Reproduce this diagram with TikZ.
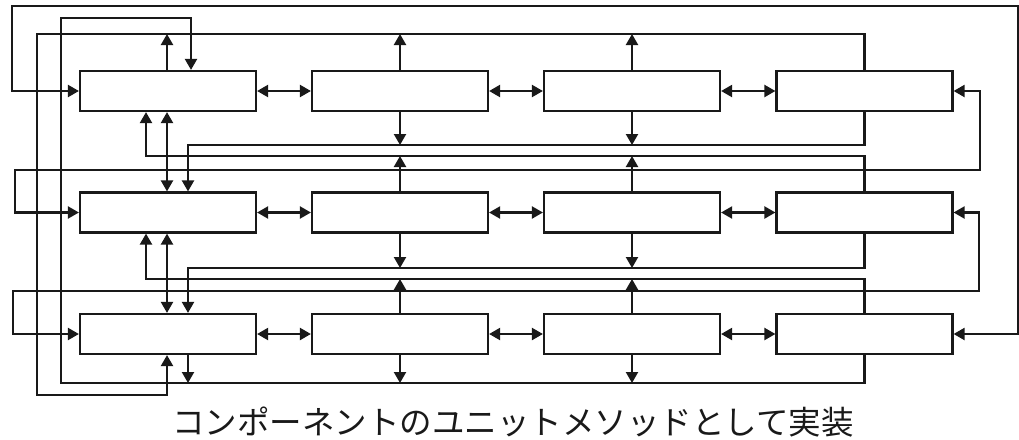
\documentclass[tikz,border=0pt]{standalone}
\usepackage{fontspec}
\newfontfamily\jp{Noto Sans CJK JP}
\usetikzlibrary{arrows.meta}
\definecolor{ink}{RGB}{25,25,25}
\tikzset{
  wire/.style={draw=ink, line width=2.2pt},
  unit/.style={wire, rectangle, fill=white, minimum width=176pt, minimum height=40pt, inner sep=0pt},
  tip/.style={-{Triangle[length=11pt,width=12pt]}},
  tips/.style={{Triangle[length=11pt,width=12pt]}-{Triangle[length=11pt,width=12pt]}},
}
\begin{document}
\begin{tikzpicture}[x=1pt,y=-1pt]
\useasboundingbox (0,0) rectangle (1019,439);

% x positions of the trunks
\coordinate (xa) at (146,0);
\coordinate (xb) at (167,0);
\coordinate (xc) at (188,0);
\coordinate (xd) at (191,0);
% y positions of the buses
\coordinate (yA) at (0,34);
\coordinate (yB) at (0,145);
\coordinate (yC) at (0,156);
\coordinate (yD) at (0,268);
\coordinate (yE) at (0,279);
\coordinate (yF) at (0,383);

% unit grid
\foreach \r/\y in {1/91,2/212.5,3/334}{
  \foreach \c/\x in {1/168,2/400,3/632,4/864.5}{
    \node[unit] (b\r\c) at (\x,\y) {};
  }
}

% neighbour links in each row
\foreach \r in {1,2,3}{
  \draw[wire,tips] (b\r1.east) -- (b\r2.west);
  \draw[wire,tips] (b\r2.east) -- (b\r3.west);
  \draw[wire,tips] (b\r3.east) -- (b\r4.west);
}

% wrap-around links on the outer edges
\draw[wire,tips] (b34.east) -- (1018,334) -- (1018,6) -- (12,6) -- (12,91) -- (b11.west);
\draw[wire,tips] (b14.east) -- (980,91) -- (980,170) -- (15,170) -- (15,212.5) -- (b21.west);
\draw[wire,tips] (b24.east) -- (979,212.5) -- (979,291) -- (13,291) -- (13,334) -- (b31.west);

% bus above row 1, fed back to the bottom of row 3
\draw[wire,tip] (b14.north) -- (b14.north |- yA) -- (37,34) -- (37,395) -- (167,395) -- (b31.south -| xb);
\foreach \c in {2,3}{ \draw[wire,tip] (b1\c.north) -- (b1\c.north |- yA); }
\draw[wire,tip] (b11.north -| xb) -- (xb |- yA);

% bus below row 3, fed back to the top of row 1
\draw[wire,tip] (b34.south) -- (b34.south |- yF) -- (61,383) -- (61,18) -- (191,18) -- (b11.north -| xd);
\foreach \c in {2,3}{ \draw[wire,tip] (b3\c.south) -- (b3\c.south |- yF); }
\draw[wire,tip] (b31.south -| xc) -- (xc |- yF);

% bus below row 1 into the top of row 2
\draw[wire,tip] (b14.south) -- (b14.south |- yB) -- (188,145) -- (b21.north -| xc);
\foreach \c in {2,3}{ \draw[wire,tip] (b1\c.south) -- (b1\c.south |- yB); }

% bus above row 2 into the bottom of row 1
\draw[wire,tip] (b24.north) -- (b24.north |- yC) -- (146,156) -- (b11.south -| xa);
\foreach \c in {2,3}{ \draw[wire,tip] (b2\c.north) -- (b2\c.north |- yC); }

% bus below row 2 into the top of row 3
\draw[wire,tip] (b24.south) -- (b24.south |- yD) -- (188,268) -- (b31.north -| xc);
\foreach \c in {2,3}{ \draw[wire,tip] (b2\c.south) -- (b2\c.south |- yD); }

% bus above row 3 into the bottom of row 2
\draw[wire,tip] (b34.north) -- (b34.north |- yE) -- (146,279) -- (b21.south -| xa);
\foreach \c in {2,3}{ \draw[wire,tip] (b3\c.north) -- (b3\c.north |- yE); }

% direct links down the first column
\draw[wire,tips] (b11.south -| xb) -- (b21.north -| xb);
\draw[wire,tips] (b21.south -| xb) -- (b31.north -| xb);

% caption
\node[anchor=base, inner sep=0pt, text=ink, font=\jp\fontsize{32.5}{38}\selectfont] (cap) at (513,434) {コンポーネントのユニットメソッドとして実装};
\end{tikzpicture}
\end{document}
